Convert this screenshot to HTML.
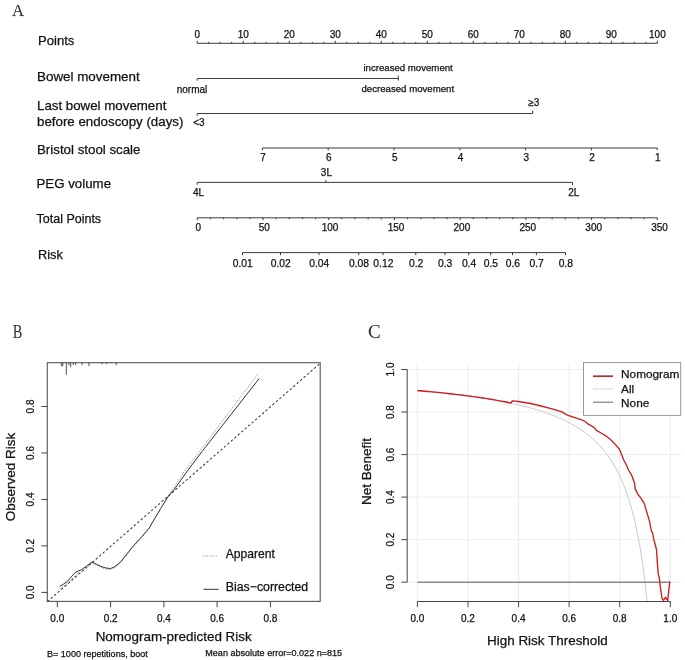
<!DOCTYPE html>
<html><head><meta charset="utf-8"><style>
html,body{margin:0;padding:0;background:#fff;}
body{width:685px;height:660px;overflow:hidden;}
svg{display:block;}
text{-webkit-font-smoothing:antialiased;}
</style></head><body>
<svg width="685" height="660" viewBox="0 0 685 660" style="will-change:transform">
<rect width="685" height="660" fill="#fff"/>
<text x="12.00" y="15.80" font-size="16.8" text-anchor="start" fill="#333" font-family='"Liberation Serif", serif' stroke="#333" stroke-width="0.25" stroke-opacity="0.3">A</text>
<text x="38.00" y="45.00" font-size="13.1" text-anchor="start" fill="#111" font-family='"Liberation Sans", sans-serif' stroke="#111" stroke-width="0.25" >Points</text>
<text x="37.00" y="80.50" font-size="13.4" text-anchor="start" fill="#111" font-family='"Liberation Sans", sans-serif' stroke="#111" stroke-width="0.25" >Bowel movement</text>
<text x="37.00" y="110.20" font-size="13.3" text-anchor="start" fill="#111" font-family='"Liberation Sans", sans-serif' stroke="#111" stroke-width="0.25" >Last bowel movement</text>
<text x="37.00" y="126.20" font-size="13.3" text-anchor="start" fill="#111" font-family='"Liberation Sans", sans-serif' stroke="#111" stroke-width="0.25" >before endoscopy (days)</text>
<text x="37.00" y="153.70" font-size="13.3" text-anchor="start" fill="#111" font-family='"Liberation Sans", sans-serif' stroke="#111" stroke-width="0.25" >Bristol stool scale</text>
<text x="36.40" y="188.20" font-size="13.3" text-anchor="start" fill="#111" font-family='"Liberation Sans", sans-serif' stroke="#111" stroke-width="0.25" >PEG volume</text>
<text x="36.50" y="223.40" font-size="12.5" text-anchor="start" fill="#111" font-family='"Liberation Sans", sans-serif' stroke="#111" stroke-width="0.25" >Total Points</text>
<text x="38.00" y="258.80" font-size="12.8" text-anchor="start" fill="#111" font-family='"Liberation Sans", sans-serif' stroke="#111" stroke-width="0.25" >Risk</text>
<line x1="197.20" y1="43.30" x2="657.40" y2="43.30" stroke="#3a3a3a" stroke-width="1" />
<line x1="197.20" y1="43.30" x2="197.20" y2="40.80" stroke="#3a3a3a" stroke-width="1" />
<text x="197.20" y="37.50" font-size="10" text-anchor="middle" fill="#111" font-family='"Liberation Sans", sans-serif' stroke="#111" stroke-width="0.25" >0</text>
<line x1="208.70" y1="43.30" x2="208.70" y2="41.80" stroke="#3a3a3a" stroke-width="1" />
<line x1="220.21" y1="43.30" x2="220.21" y2="41.80" stroke="#3a3a3a" stroke-width="1" />
<line x1="231.71" y1="43.30" x2="231.71" y2="41.80" stroke="#3a3a3a" stroke-width="1" />
<line x1="243.22" y1="43.30" x2="243.22" y2="40.80" stroke="#3a3a3a" stroke-width="1" />
<text x="243.22" y="37.50" font-size="10" text-anchor="middle" fill="#111" font-family='"Liberation Sans", sans-serif' stroke="#111" stroke-width="0.25" >10</text>
<line x1="254.72" y1="43.30" x2="254.72" y2="41.80" stroke="#3a3a3a" stroke-width="1" />
<line x1="266.23" y1="43.30" x2="266.23" y2="41.80" stroke="#3a3a3a" stroke-width="1" />
<line x1="277.74" y1="43.30" x2="277.74" y2="41.80" stroke="#3a3a3a" stroke-width="1" />
<line x1="289.24" y1="43.30" x2="289.24" y2="40.80" stroke="#3a3a3a" stroke-width="1" />
<text x="289.24" y="37.50" font-size="10" text-anchor="middle" fill="#111" font-family='"Liberation Sans", sans-serif' stroke="#111" stroke-width="0.25" >20</text>
<line x1="300.75" y1="43.30" x2="300.75" y2="41.80" stroke="#3a3a3a" stroke-width="1" />
<line x1="312.25" y1="43.30" x2="312.25" y2="41.80" stroke="#3a3a3a" stroke-width="1" />
<line x1="323.75" y1="43.30" x2="323.75" y2="41.80" stroke="#3a3a3a" stroke-width="1" />
<line x1="335.26" y1="43.30" x2="335.26" y2="40.80" stroke="#3a3a3a" stroke-width="1" />
<text x="335.26" y="37.50" font-size="10" text-anchor="middle" fill="#111" font-family='"Liberation Sans", sans-serif' stroke="#111" stroke-width="0.25" >30</text>
<line x1="346.76" y1="43.30" x2="346.76" y2="41.80" stroke="#3a3a3a" stroke-width="1" />
<line x1="358.27" y1="43.30" x2="358.27" y2="41.80" stroke="#3a3a3a" stroke-width="1" />
<line x1="369.77" y1="43.30" x2="369.77" y2="41.80" stroke="#3a3a3a" stroke-width="1" />
<line x1="381.28" y1="43.30" x2="381.28" y2="40.80" stroke="#3a3a3a" stroke-width="1" />
<text x="381.28" y="37.50" font-size="10" text-anchor="middle" fill="#111" font-family='"Liberation Sans", sans-serif' stroke="#111" stroke-width="0.25" >40</text>
<line x1="392.78" y1="43.30" x2="392.78" y2="41.80" stroke="#3a3a3a" stroke-width="1" />
<line x1="404.29" y1="43.30" x2="404.29" y2="41.80" stroke="#3a3a3a" stroke-width="1" />
<line x1="415.79" y1="43.30" x2="415.79" y2="41.80" stroke="#3a3a3a" stroke-width="1" />
<line x1="427.30" y1="43.30" x2="427.30" y2="40.80" stroke="#3a3a3a" stroke-width="1" />
<text x="427.30" y="37.50" font-size="10" text-anchor="middle" fill="#111" font-family='"Liberation Sans", sans-serif' stroke="#111" stroke-width="0.25" >50</text>
<line x1="438.80" y1="43.30" x2="438.80" y2="41.80" stroke="#3a3a3a" stroke-width="1" />
<line x1="450.31" y1="43.30" x2="450.31" y2="41.80" stroke="#3a3a3a" stroke-width="1" />
<line x1="461.81" y1="43.30" x2="461.81" y2="41.80" stroke="#3a3a3a" stroke-width="1" />
<line x1="473.32" y1="43.30" x2="473.32" y2="40.80" stroke="#3a3a3a" stroke-width="1" />
<text x="473.32" y="37.50" font-size="10" text-anchor="middle" fill="#111" font-family='"Liberation Sans", sans-serif' stroke="#111" stroke-width="0.25" >60</text>
<line x1="484.82" y1="43.30" x2="484.82" y2="41.80" stroke="#3a3a3a" stroke-width="1" />
<line x1="496.33" y1="43.30" x2="496.33" y2="41.80" stroke="#3a3a3a" stroke-width="1" />
<line x1="507.83" y1="43.30" x2="507.83" y2="41.80" stroke="#3a3a3a" stroke-width="1" />
<line x1="519.34" y1="43.30" x2="519.34" y2="40.80" stroke="#3a3a3a" stroke-width="1" />
<text x="519.34" y="37.50" font-size="10" text-anchor="middle" fill="#111" font-family='"Liberation Sans", sans-serif' stroke="#111" stroke-width="0.25" >70</text>
<line x1="530.85" y1="43.30" x2="530.85" y2="41.80" stroke="#3a3a3a" stroke-width="1" />
<line x1="542.35" y1="43.30" x2="542.35" y2="41.80" stroke="#3a3a3a" stroke-width="1" />
<line x1="553.86" y1="43.30" x2="553.86" y2="41.80" stroke="#3a3a3a" stroke-width="1" />
<line x1="565.36" y1="43.30" x2="565.36" y2="40.80" stroke="#3a3a3a" stroke-width="1" />
<text x="565.36" y="37.50" font-size="10" text-anchor="middle" fill="#111" font-family='"Liberation Sans", sans-serif' stroke="#111" stroke-width="0.25" >80</text>
<line x1="576.87" y1="43.30" x2="576.87" y2="41.80" stroke="#3a3a3a" stroke-width="1" />
<line x1="588.37" y1="43.30" x2="588.37" y2="41.80" stroke="#3a3a3a" stroke-width="1" />
<line x1="599.88" y1="43.30" x2="599.88" y2="41.80" stroke="#3a3a3a" stroke-width="1" />
<line x1="611.38" y1="43.30" x2="611.38" y2="40.80" stroke="#3a3a3a" stroke-width="1" />
<text x="611.38" y="37.50" font-size="10" text-anchor="middle" fill="#111" font-family='"Liberation Sans", sans-serif' stroke="#111" stroke-width="0.25" >90</text>
<line x1="622.88" y1="43.30" x2="622.88" y2="41.80" stroke="#3a3a3a" stroke-width="1" />
<line x1="634.39" y1="43.30" x2="634.39" y2="41.80" stroke="#3a3a3a" stroke-width="1" />
<line x1="645.89" y1="43.30" x2="645.89" y2="41.80" stroke="#3a3a3a" stroke-width="1" />
<line x1="657.40" y1="43.30" x2="657.40" y2="40.80" stroke="#3a3a3a" stroke-width="1" />
<text x="657.40" y="37.50" font-size="10" text-anchor="middle" fill="#111" font-family='"Liberation Sans", sans-serif' stroke="#111" stroke-width="0.25" >100</text>
<line x1="197.20" y1="78.50" x2="398.30" y2="78.50" stroke="#3a3a3a" stroke-width="1" />
<line x1="197.20" y1="78.50" x2="197.20" y2="80.70" stroke="#3a3a3a" stroke-width="1" />
<line x1="398.30" y1="75.50" x2="398.30" y2="80.70" stroke="#3a3a3a" stroke-width="1" />
<text x="192.00" y="93.30" font-size="10" text-anchor="middle" fill="#111" font-family='"Liberation Sans", sans-serif' stroke="#111" stroke-width="0.25" >normal</text>
<text x="408.10" y="71.20" font-size="9.65" text-anchor="middle" fill="#111" font-family='"Liberation Sans", sans-serif' stroke="#111" stroke-width="0.25" >increased movement</text>
<text x="407.80" y="91.80" font-size="9.65" text-anchor="middle" fill="#111" font-family='"Liberation Sans", sans-serif' stroke="#111" stroke-width="0.25" >decreased movement</text>
<line x1="197.20" y1="113.50" x2="532.70" y2="113.50" stroke="#3a3a3a" stroke-width="1" />
<line x1="197.20" y1="113.50" x2="197.20" y2="115.70" stroke="#3a3a3a" stroke-width="1" />
<line x1="532.70" y1="113.50" x2="532.70" y2="110.50" stroke="#3a3a3a" stroke-width="1" />
<text x="198.90" y="126.40" font-size="10" text-anchor="middle" fill="#111" font-family='"Liberation Sans", sans-serif' stroke="#111" stroke-width="0.25" >&lt;3</text>
<text x="533.90" y="105.50" font-size="10" text-anchor="middle" fill="#111" font-family='"Liberation Sans", sans-serif' stroke="#111" stroke-width="0.25" >&#8805;3</text>
<line x1="262.40" y1="148.00" x2="657.20" y2="148.00" stroke="#3a3a3a" stroke-width="1" />
<line x1="657.20" y1="148.00" x2="657.20" y2="150.30" stroke="#3a3a3a" stroke-width="1" />
<text x="657.90" y="161.00" font-size="10" text-anchor="middle" fill="#111" font-family='"Liberation Sans", sans-serif' stroke="#111" stroke-width="0.25" >1</text>
<line x1="591.40" y1="148.00" x2="591.40" y2="150.30" stroke="#3a3a3a" stroke-width="1" />
<text x="592.10" y="161.00" font-size="10" text-anchor="middle" fill="#111" font-family='"Liberation Sans", sans-serif' stroke="#111" stroke-width="0.25" >2</text>
<line x1="525.60" y1="148.00" x2="525.60" y2="150.30" stroke="#3a3a3a" stroke-width="1" />
<text x="526.30" y="161.00" font-size="10" text-anchor="middle" fill="#111" font-family='"Liberation Sans", sans-serif' stroke="#111" stroke-width="0.25" >3</text>
<line x1="459.80" y1="148.00" x2="459.80" y2="150.30" stroke="#3a3a3a" stroke-width="1" />
<text x="460.50" y="161.00" font-size="10" text-anchor="middle" fill="#111" font-family='"Liberation Sans", sans-serif' stroke="#111" stroke-width="0.25" >4</text>
<line x1="394.00" y1="148.00" x2="394.00" y2="150.30" stroke="#3a3a3a" stroke-width="1" />
<text x="394.70" y="161.00" font-size="10" text-anchor="middle" fill="#111" font-family='"Liberation Sans", sans-serif' stroke="#111" stroke-width="0.25" >5</text>
<line x1="328.20" y1="148.00" x2="328.20" y2="150.30" stroke="#3a3a3a" stroke-width="1" />
<text x="328.90" y="161.00" font-size="10" text-anchor="middle" fill="#111" font-family='"Liberation Sans", sans-serif' stroke="#111" stroke-width="0.25" >6</text>
<line x1="262.40" y1="148.00" x2="262.40" y2="150.30" stroke="#3a3a3a" stroke-width="1" />
<text x="263.10" y="161.00" font-size="10" text-anchor="middle" fill="#111" font-family='"Liberation Sans", sans-serif' stroke="#111" stroke-width="0.25" >7</text>
<line x1="197.20" y1="182.40" x2="572.50" y2="182.40" stroke="#3a3a3a" stroke-width="1" />
<line x1="197.20" y1="182.40" x2="197.20" y2="184.70" stroke="#3a3a3a" stroke-width="1" />
<line x1="325.90" y1="182.40" x2="325.90" y2="180.10" stroke="#3a3a3a" stroke-width="1" />
<line x1="572.50" y1="182.40" x2="572.50" y2="185.00" stroke="#3a3a3a" stroke-width="1" />
<text x="198.50" y="195.80" font-size="10" text-anchor="middle" fill="#111" font-family='"Liberation Sans", sans-serif' stroke="#111" stroke-width="0.25" >4L</text>
<text x="326.40" y="176.30" font-size="10" text-anchor="middle" fill="#111" font-family='"Liberation Sans", sans-serif' stroke="#111" stroke-width="0.25" >3L</text>
<text x="573.80" y="195.80" font-size="10" text-anchor="middle" fill="#111" font-family='"Liberation Sans", sans-serif' stroke="#111" stroke-width="0.25" >2L</text>
<line x1="197.30" y1="217.80" x2="657.30" y2="217.80" stroke="#3a3a3a" stroke-width="1" />
<line x1="197.30" y1="217.80" x2="197.30" y2="220.10" stroke="#3a3a3a" stroke-width="1" />
<text x="198.30" y="230.50" font-size="10" text-anchor="middle" fill="#111" font-family='"Liberation Sans", sans-serif' stroke="#111" stroke-width="0.25" >0</text>
<line x1="210.44" y1="217.80" x2="210.44" y2="219.30" stroke="#3a3a3a" stroke-width="1" />
<line x1="223.59" y1="217.80" x2="223.59" y2="219.30" stroke="#3a3a3a" stroke-width="1" />
<line x1="236.73" y1="217.80" x2="236.73" y2="219.30" stroke="#3a3a3a" stroke-width="1" />
<line x1="249.87" y1="217.80" x2="249.87" y2="219.30" stroke="#3a3a3a" stroke-width="1" />
<line x1="263.01" y1="217.80" x2="263.01" y2="220.10" stroke="#3a3a3a" stroke-width="1" />
<text x="264.20" y="230.50" font-size="10" text-anchor="middle" fill="#111" font-family='"Liberation Sans", sans-serif' stroke="#111" stroke-width="0.25" >50</text>
<line x1="276.16" y1="217.80" x2="276.16" y2="219.30" stroke="#3a3a3a" stroke-width="1" />
<line x1="289.30" y1="217.80" x2="289.30" y2="219.30" stroke="#3a3a3a" stroke-width="1" />
<line x1="302.44" y1="217.80" x2="302.44" y2="219.30" stroke="#3a3a3a" stroke-width="1" />
<line x1="315.59" y1="217.80" x2="315.59" y2="219.30" stroke="#3a3a3a" stroke-width="1" />
<line x1="328.73" y1="217.80" x2="328.73" y2="220.10" stroke="#3a3a3a" stroke-width="1" />
<text x="330.10" y="230.50" font-size="10" text-anchor="middle" fill="#111" font-family='"Liberation Sans", sans-serif' stroke="#111" stroke-width="0.25" >100</text>
<line x1="341.87" y1="217.80" x2="341.87" y2="219.30" stroke="#3a3a3a" stroke-width="1" />
<line x1="355.01" y1="217.80" x2="355.01" y2="219.30" stroke="#3a3a3a" stroke-width="1" />
<line x1="368.16" y1="217.80" x2="368.16" y2="219.30" stroke="#3a3a3a" stroke-width="1" />
<line x1="381.30" y1="217.80" x2="381.30" y2="219.30" stroke="#3a3a3a" stroke-width="1" />
<line x1="394.44" y1="217.80" x2="394.44" y2="220.10" stroke="#3a3a3a" stroke-width="1" />
<text x="396.00" y="230.50" font-size="10" text-anchor="middle" fill="#111" font-family='"Liberation Sans", sans-serif' stroke="#111" stroke-width="0.25" >150</text>
<line x1="407.59" y1="217.80" x2="407.59" y2="219.30" stroke="#3a3a3a" stroke-width="1" />
<line x1="420.73" y1="217.80" x2="420.73" y2="219.30" stroke="#3a3a3a" stroke-width="1" />
<line x1="433.87" y1="217.80" x2="433.87" y2="219.30" stroke="#3a3a3a" stroke-width="1" />
<line x1="447.01" y1="217.80" x2="447.01" y2="219.30" stroke="#3a3a3a" stroke-width="1" />
<line x1="460.16" y1="217.80" x2="460.16" y2="220.10" stroke="#3a3a3a" stroke-width="1" />
<text x="461.90" y="230.50" font-size="10" text-anchor="middle" fill="#111" font-family='"Liberation Sans", sans-serif' stroke="#111" stroke-width="0.25" >200</text>
<line x1="473.30" y1="217.80" x2="473.30" y2="219.30" stroke="#3a3a3a" stroke-width="1" />
<line x1="486.44" y1="217.80" x2="486.44" y2="219.30" stroke="#3a3a3a" stroke-width="1" />
<line x1="499.59" y1="217.80" x2="499.59" y2="219.30" stroke="#3a3a3a" stroke-width="1" />
<line x1="512.73" y1="217.80" x2="512.73" y2="219.30" stroke="#3a3a3a" stroke-width="1" />
<line x1="525.87" y1="217.80" x2="525.87" y2="220.10" stroke="#3a3a3a" stroke-width="1" />
<text x="527.80" y="230.50" font-size="10" text-anchor="middle" fill="#111" font-family='"Liberation Sans", sans-serif' stroke="#111" stroke-width="0.25" >250</text>
<line x1="539.01" y1="217.80" x2="539.01" y2="219.30" stroke="#3a3a3a" stroke-width="1" />
<line x1="552.16" y1="217.80" x2="552.16" y2="219.30" stroke="#3a3a3a" stroke-width="1" />
<line x1="565.30" y1="217.80" x2="565.30" y2="219.30" stroke="#3a3a3a" stroke-width="1" />
<line x1="578.44" y1="217.80" x2="578.44" y2="219.30" stroke="#3a3a3a" stroke-width="1" />
<line x1="591.59" y1="217.80" x2="591.59" y2="220.10" stroke="#3a3a3a" stroke-width="1" />
<text x="593.70" y="230.50" font-size="10" text-anchor="middle" fill="#111" font-family='"Liberation Sans", sans-serif' stroke="#111" stroke-width="0.25" >300</text>
<line x1="604.73" y1="217.80" x2="604.73" y2="219.30" stroke="#3a3a3a" stroke-width="1" />
<line x1="617.87" y1="217.80" x2="617.87" y2="219.30" stroke="#3a3a3a" stroke-width="1" />
<line x1="631.01" y1="217.80" x2="631.01" y2="219.30" stroke="#3a3a3a" stroke-width="1" />
<line x1="644.16" y1="217.80" x2="644.16" y2="219.30" stroke="#3a3a3a" stroke-width="1" />
<line x1="657.30" y1="217.80" x2="657.30" y2="220.10" stroke="#3a3a3a" stroke-width="1" />
<text x="659.60" y="230.50" font-size="10" text-anchor="middle" fill="#111" font-family='"Liberation Sans", sans-serif' stroke="#111" stroke-width="0.25" >350</text>
<line x1="242.50" y1="252.60" x2="565.50" y2="252.60" stroke="#3a3a3a" stroke-width="1" />
<line x1="242.50" y1="252.60" x2="242.50" y2="255.20" stroke="#3a3a3a" stroke-width="1" />
<text x="242.80" y="267.00" font-size="10.3" text-anchor="middle" fill="#111" font-family='"Liberation Sans", sans-serif' stroke="#111" stroke-width="0.25" >0.01</text>
<line x1="280.48" y1="252.60" x2="280.48" y2="255.20" stroke="#3a3a3a" stroke-width="1" />
<text x="280.78" y="267.00" font-size="10.3" text-anchor="middle" fill="#111" font-family='"Liberation Sans", sans-serif' stroke="#111" stroke-width="0.25" >0.02</text>
<line x1="319.02" y1="252.60" x2="319.02" y2="255.20" stroke="#3a3a3a" stroke-width="1" />
<text x="319.32" y="267.00" font-size="10.3" text-anchor="middle" fill="#111" font-family='"Liberation Sans", sans-serif' stroke="#111" stroke-width="0.25" >0.04</text>
<line x1="358.75" y1="252.60" x2="358.75" y2="255.20" stroke="#3a3a3a" stroke-width="1" />
<text x="359.05" y="267.00" font-size="10.3" text-anchor="middle" fill="#111" font-family='"Liberation Sans", sans-serif' stroke="#111" stroke-width="0.25" >0.08</text>
<line x1="383.05" y1="252.60" x2="383.05" y2="255.20" stroke="#3a3a3a" stroke-width="1" />
<text x="383.35" y="267.00" font-size="10.3" text-anchor="middle" fill="#111" font-family='"Liberation Sans", sans-serif' stroke="#111" stroke-width="0.25" >0.12</text>
<line x1="415.78" y1="252.60" x2="415.78" y2="255.20" stroke="#3a3a3a" stroke-width="1" />
<text x="416.08" y="267.00" font-size="10.3" text-anchor="middle" fill="#111" font-family='"Liberation Sans", sans-serif' stroke="#111" stroke-width="0.25" >0.2</text>
<line x1="444.88" y1="252.60" x2="444.88" y2="255.20" stroke="#3a3a3a" stroke-width="1" />
<text x="445.18" y="267.00" font-size="10.3" text-anchor="middle" fill="#111" font-family='"Liberation Sans", sans-serif' stroke="#111" stroke-width="0.25" >0.3</text>
<line x1="468.74" y1="252.60" x2="468.74" y2="255.20" stroke="#3a3a3a" stroke-width="1" />
<text x="469.04" y="267.00" font-size="10.3" text-anchor="middle" fill="#111" font-family='"Liberation Sans", sans-serif' stroke="#111" stroke-width="0.25" >0.4</text>
<line x1="490.64" y1="252.60" x2="490.64" y2="255.20" stroke="#3a3a3a" stroke-width="1" />
<text x="490.94" y="267.00" font-size="10.3" text-anchor="middle" fill="#111" font-family='"Liberation Sans", sans-serif' stroke="#111" stroke-width="0.25" >0.5</text>
<line x1="512.53" y1="252.60" x2="512.53" y2="255.20" stroke="#3a3a3a" stroke-width="1" />
<text x="512.83" y="267.00" font-size="10.3" text-anchor="middle" fill="#111" font-family='"Liberation Sans", sans-serif' stroke="#111" stroke-width="0.25" >0.6</text>
<line x1="536.39" y1="252.60" x2="536.39" y2="255.20" stroke="#3a3a3a" stroke-width="1" />
<text x="536.69" y="267.00" font-size="10.3" text-anchor="middle" fill="#111" font-family='"Liberation Sans", sans-serif' stroke="#111" stroke-width="0.25" >0.7</text>
<line x1="565.50" y1="252.60" x2="565.50" y2="255.20" stroke="#3a3a3a" stroke-width="1" />
<text x="565.80" y="267.00" font-size="10.3" text-anchor="middle" fill="#111" font-family='"Liberation Sans", sans-serif' stroke="#111" stroke-width="0.25" >0.8</text>
<text transform="translate(12.7,337.7) scale(0.8,1)" font-size="18" fill="#333" font-family='"Liberation Serif", serif' stroke="#333" stroke-width="0.2" stroke-opacity="0.3">B</text>
<rect x="47.3" y="362.7" width="272.90" height="238.70" fill="none" stroke="#555" stroke-width="1.1"/>
<line x1="57.30" y1="601.40" x2="57.30" y2="607.30" stroke="#444" stroke-width="1" />
<text x="57.30" y="622.30" font-size="10" text-anchor="middle" fill="#111" font-family='"Liberation Sans", sans-serif' stroke="#111" stroke-width="0.25" >0.0</text>
<line x1="41.40" y1="592.40" x2="47.30" y2="592.40" stroke="#444" stroke-width="1" />
<text transform="translate(33.80,592.40) rotate(-90)" font-size="10" text-anchor="middle" fill="#111" font-family='"Liberation Sans", sans-serif' stroke="#111" stroke-width="0.25">0.0</text>
<line x1="110.58" y1="601.40" x2="110.58" y2="607.30" stroke="#444" stroke-width="1" />
<text x="110.58" y="622.30" font-size="10" text-anchor="middle" fill="#111" font-family='"Liberation Sans", sans-serif' stroke="#111" stroke-width="0.25" >0.2</text>
<line x1="41.40" y1="545.92" x2="47.30" y2="545.92" stroke="#444" stroke-width="1" />
<text transform="translate(33.80,545.92) rotate(-90)" font-size="10" text-anchor="middle" fill="#111" font-family='"Liberation Sans", sans-serif' stroke="#111" stroke-width="0.25">0.2</text>
<line x1="163.86" y1="601.40" x2="163.86" y2="607.30" stroke="#444" stroke-width="1" />
<text x="163.86" y="622.30" font-size="10" text-anchor="middle" fill="#111" font-family='"Liberation Sans", sans-serif' stroke="#111" stroke-width="0.25" >0.4</text>
<line x1="41.40" y1="499.44" x2="47.30" y2="499.44" stroke="#444" stroke-width="1" />
<text transform="translate(33.80,499.44) rotate(-90)" font-size="10" text-anchor="middle" fill="#111" font-family='"Liberation Sans", sans-serif' stroke="#111" stroke-width="0.25">0.4</text>
<line x1="217.14" y1="601.40" x2="217.14" y2="607.30" stroke="#444" stroke-width="1" />
<text x="217.14" y="622.30" font-size="10" text-anchor="middle" fill="#111" font-family='"Liberation Sans", sans-serif' stroke="#111" stroke-width="0.25" >0.6</text>
<line x1="41.40" y1="452.96" x2="47.30" y2="452.96" stroke="#444" stroke-width="1" />
<text transform="translate(33.80,452.96) rotate(-90)" font-size="10" text-anchor="middle" fill="#111" font-family='"Liberation Sans", sans-serif' stroke="#111" stroke-width="0.25">0.6</text>
<line x1="270.42" y1="601.40" x2="270.42" y2="607.30" stroke="#444" stroke-width="1" />
<text x="270.42" y="622.30" font-size="10" text-anchor="middle" fill="#111" font-family='"Liberation Sans", sans-serif' stroke="#111" stroke-width="0.25" >0.8</text>
<line x1="41.40" y1="406.48" x2="47.30" y2="406.48" stroke="#444" stroke-width="1" />
<text transform="translate(33.80,406.48) rotate(-90)" font-size="10" text-anchor="middle" fill="#111" font-family='"Liberation Sans", sans-serif' stroke="#111" stroke-width="0.25">0.8</text>
<text transform="translate(14.60,476.90) rotate(-90)" font-size="13.5" text-anchor="middle" fill="#111" font-family='"Liberation Sans", sans-serif' stroke="#111" stroke-width="0.25">Observed Risk</text>
<text x="173.70" y="641.00" font-size="13.45" text-anchor="middle" fill="#111" font-family='"Liberation Sans", sans-serif' stroke="#111" stroke-width="0.25" >Nomogram-predicted Risk</text>
<text x="47.00" y="656.90" font-size="9.05" text-anchor="start" fill="#111" font-family='"Liberation Sans", sans-serif' stroke="#111" stroke-width="0.25" >B= 1000 repetitions, boot</text>
<text x="205.30" y="656.10" font-size="9.05" text-anchor="start" fill="#111" font-family='"Liberation Sans", sans-serif' stroke="#111" stroke-width="0.25" >Mean absolute error=0.022 n=815</text>
<line x1="47.30" y1="601.70" x2="320.20" y2="363.30" stroke="#3a3a3a" stroke-width="1.05" stroke-dasharray="2.4 2.2"/>
<line x1="61.40" y1="362.70" x2="61.40" y2="366.20" stroke="#3a3a3a" stroke-width="0.9" />
<line x1="62.80" y1="362.70" x2="62.80" y2="366.20" stroke="#3a3a3a" stroke-width="0.9" />
<line x1="66.30" y1="362.70" x2="66.30" y2="374.70" stroke="#3a3a3a" stroke-width="0.9" />
<line x1="68.90" y1="362.70" x2="68.90" y2="365.20" stroke="#3a3a3a" stroke-width="0.9" />
<line x1="70.70" y1="362.70" x2="70.70" y2="367.20" stroke="#3a3a3a" stroke-width="0.9" />
<line x1="73.30" y1="362.70" x2="73.30" y2="365.20" stroke="#3a3a3a" stroke-width="0.9" />
<line x1="75.60" y1="362.70" x2="75.60" y2="365.20" stroke="#3a3a3a" stroke-width="0.9" />
<line x1="82.00" y1="362.70" x2="82.00" y2="365.20" stroke="#3a3a3a" stroke-width="0.9" />
<line x1="89.00" y1="362.70" x2="89.00" y2="366.20" stroke="#3a3a3a" stroke-width="0.9" />
<line x1="102.00" y1="362.70" x2="102.00" y2="364.20" stroke="#3a3a3a" stroke-width="0.9" />
<line x1="106.60" y1="362.70" x2="106.60" y2="364.20" stroke="#3a3a3a" stroke-width="0.9" />
<line x1="116.20" y1="362.70" x2="116.20" y2="365.20" stroke="#3a3a3a" stroke-width="0.9" />
<path d="M59.70,586.40 L63.00,584.50 L67.50,581.30 L72.00,576.00 L75.70,572.10 L80.80,570.00 L86.00,566.50 L92.00,561.90 L96.00,564.00 L100.20,566.00 L105.00,567.80 L110.40,568.60 L115.00,566.50 L120.60,561.90 L126.00,555.00 L133.60,545.60 L141.00,537.50 L149.30,527.90 L152.70,521.80 L160.90,508.20 L167.70,497.30 L174.50,489.10 L188.10,470.00 L202.80,450.50 L259.20,378.50" fill="none" stroke="#333" stroke-width="1" stroke-linejoin="round" />
<path d="M60.50,588.40 L64.00,586.00 L68.50,582.50 L73.00,578.00 L77.00,574.00 L82.00,571.50 L87.00,567.50 L92.00,563.00 L96.00,565.00 L100.20,567.00 L105.00,568.80 L110.40,569.40 L115.00,567.50 L120.60,562.90 L126.00,556.00 L133.60,546.60 L141.00,538.30 L149.30,528.40 L152.70,522.50 L160.90,508.20 L167.70,496.80 L171.80,490.40 L185.40,470.00 L200.60,450.00 L257.90,374.00" fill="none" stroke="#666" stroke-width="0.8" stroke-linejoin="round" stroke-dasharray="1 1.2"/>
<line x1="202.70" y1="556.00" x2="218.20" y2="556.00" stroke="#777" stroke-width="0.8" stroke-dasharray="1 1.2"/>
<text x="225.80" y="558.00" font-size="12.1" text-anchor="start" fill="#111" font-family='"Liberation Sans", sans-serif' stroke="#111" stroke-width="0.25" >Apparent</text>
<line x1="203.50" y1="589.30" x2="218.60" y2="589.30" stroke="#333" stroke-width="1" />
<text x="225.80" y="591.30" font-size="12.3" text-anchor="start" fill="#111" font-family='"Liberation Sans", sans-serif' stroke="#111" stroke-width="0.25" >Bias&#8722;corrected</text>
<text x="367.90" y="338.00" font-size="19" text-anchor="start" fill="#333" font-family='"Liberation Serif", serif' stroke="#333" stroke-width="0.25" stroke-opacity="0.3">C</text>
<line x1="417.40" y1="362.60" x2="417.40" y2="601.60" stroke="#ececec" stroke-width="1" />
<line x1="407.20" y1="582.20" x2="680.80" y2="582.20" stroke="#ececec" stroke-width="1" />
<line x1="467.98" y1="362.60" x2="467.98" y2="601.60" stroke="#ececec" stroke-width="1" />
<line x1="407.20" y1="539.66" x2="680.80" y2="539.66" stroke="#ececec" stroke-width="1" />
<line x1="518.56" y1="362.60" x2="518.56" y2="601.60" stroke="#ececec" stroke-width="1" />
<line x1="407.20" y1="497.12" x2="680.80" y2="497.12" stroke="#ececec" stroke-width="1" />
<line x1="569.14" y1="362.60" x2="569.14" y2="601.60" stroke="#ececec" stroke-width="1" />
<line x1="407.20" y1="454.58" x2="680.80" y2="454.58" stroke="#ececec" stroke-width="1" />
<line x1="619.72" y1="362.60" x2="619.72" y2="601.60" stroke="#ececec" stroke-width="1" />
<line x1="407.20" y1="412.04" x2="680.80" y2="412.04" stroke="#ececec" stroke-width="1" />
<line x1="670.30" y1="362.60" x2="670.30" y2="601.60" stroke="#ececec" stroke-width="1" />
<line x1="407.20" y1="369.50" x2="680.80" y2="369.50" stroke="#ececec" stroke-width="1" />
<path d="M417.40,390.77 L418.66,390.88 L419.93,390.98 L421.19,391.09 L422.46,391.20 L423.72,391.32 L424.99,391.43 L426.25,391.54 L427.52,391.66 L428.78,391.77 L430.04,391.89 L431.31,392.01 L432.57,392.13 L433.84,392.25 L435.10,392.37 L436.37,392.49 L437.63,392.62 L438.90,392.75 L440.16,392.87 L441.43,393.00 L442.69,393.13 L443.95,393.27 L445.22,393.40 L446.48,393.53 L447.75,393.67 L449.01,393.81 L450.28,393.95 L451.54,394.09 L452.81,394.23 L454.07,394.38 L455.33,394.52 L456.60,394.67 L457.86,394.82 L459.13,394.97 L460.39,395.13 L461.66,395.28 L462.92,395.44 L464.19,395.60 L465.45,395.76 L466.72,395.92 L467.98,396.09 L469.24,396.25 L470.51,396.42 L471.77,396.60 L473.04,396.77 L474.30,396.95 L475.57,397.12 L476.83,397.30 L478.10,397.49 L479.36,397.67 L480.62,397.86 L481.89,398.05 L483.15,398.24 L484.42,398.44 L485.68,398.64 L486.95,398.84 L488.21,399.04 L489.48,399.25 L490.74,399.46 L492.01,399.67 L493.27,399.89 L494.53,400.10 L495.80,400.33 L497.06,400.55 L498.33,400.78 L499.59,401.01 L500.86,401.25 L502.12,401.48 L503.39,401.73 L504.65,401.97 L505.92,402.22 L507.18,402.48 L508.44,402.73 L509.71,403.00 L510.97,403.26 L512.24,403.53 L513.50,403.81 L514.77,404.09 L516.03,404.37 L517.30,404.66 L518.56,404.95 L519.82,405.25 L521.09,405.55 L522.35,405.86 L523.62,406.17 L524.88,406.49 L526.15,406.82 L527.41,407.15 L528.68,407.48 L529.94,407.82 L531.21,408.17 L532.47,408.53 L533.73,408.89 L535.00,409.26 L536.26,409.63 L537.53,410.01 L538.79,410.40 L540.06,410.80 L541.32,411.21 L542.59,411.62 L543.85,412.04 L545.11,412.47 L546.38,412.91 L547.64,413.36 L548.91,413.81 L550.17,414.28 L551.44,414.76 L552.70,415.24 L553.97,415.74 L555.23,416.25 L556.50,416.77 L557.76,417.30 L559.02,417.84 L560.29,418.40 L561.55,418.97 L562.82,419.55 L564.08,420.14 L565.35,420.75 L566.61,421.38 L567.88,422.02 L569.14,422.68 L570.40,423.35 L571.67,424.04 L572.93,424.75 L574.20,425.47 L575.46,426.22 L576.73,426.99 L577.99,427.77 L579.26,428.58 L580.52,429.42 L581.79,430.27 L583.05,431.15 L584.31,432.06 L585.58,432.99 L586.84,433.95 L588.11,434.95 L589.37,435.97 L590.64,437.02 L591.90,438.11 L593.17,439.24 L594.43,440.40 L595.69,441.60 L596.96,442.84 L598.22,444.13 L599.49,445.46 L600.75,446.85 L602.02,448.28 L603.28,449.76 L604.55,451.31 L605.81,452.91 L607.08,454.58 L608.34,456.32 L609.60,458.13 L610.87,460.01 L612.13,461.98 L613.40,464.03 L614.66,466.18 L615.93,468.43 L617.19,470.79 L618.46,473.26 L619.72,475.85 L620.98,478.58 L622.25,481.45 L623.51,484.47 L624.78,487.67 L626.04,491.04 L627.31,494.62 L628.57,498.41 L629.84,502.44 L631.10,506.73 L632.37,511.30 L633.63,516.19 L634.89,521.43 L636.16,527.06 L637.42,533.12 L638.69,539.66 L639.95,546.75 L641.22,554.46 L642.48,562.86 L643.75,572.07 L645.01,582.20 L646.27,593.39 L647.14,601.73" fill="none" stroke="#c8c8c8" stroke-width="1" stroke-linejoin="round" />
<line x1="417.40" y1="582.20" x2="670.30" y2="582.20" stroke="#555" stroke-width="1" />
<path d="M417.40,390.57 L419.93,390.78 L422.46,391.00 L424.99,391.23 L427.52,391.46 L430.04,391.69 L432.57,391.93 L435.10,392.17 L437.63,392.42 L440.16,392.67 L442.69,392.93 L445.22,393.20 L447.75,393.47 L450.28,393.75 L452.81,394.03 L455.33,394.32 L457.86,394.62 L460.39,394.93 L462.92,395.24 L465.45,395.56 L467.98,395.89 L470.51,396.22 L473.04,396.57 L475.57,396.92 L478.10,397.29 L480.62,397.66 L483.15,398.04 L485.68,398.44 L488.21,398.84 L490.74,399.26 L493.27,399.69 L495.80,400.13 L498.33,400.58 L500.86,401.05 L503.39,401.53 L505.92,402.02 L508.44,402.53 L510.97,403.06 L512.30,400.80 L518.40,401.50 L530.70,403.50 L541.00,406.00 L551.10,408.60 L561.30,411.70 L567.40,415.20 L574.00,417.30 L581.70,419.90 L585.00,421.50 L587.90,423.90 L594.00,427.40 L596.10,430.10 L601.00,433.00 L606.30,436.20 L610.50,439.50 L614.40,443.40 L619.60,449.50 L621.80,455.00 L623.60,459.70 L626.70,465.80 L628.50,470.00 L631.70,475.30 L634.40,482.70 L635.30,489.10 L638.00,494.40 L641.20,498.60 L644.40,503.90 L646.50,511.30 L649.70,521.90 L651.40,531.50 L652.50,532.50 L653.90,540.00 L656.50,549.50 L657.10,559.00 L658.20,573.90 L659.20,577.10 L660.30,586.60 L662.00,598.30 L663.50,600.40 L665.60,597.20 L666.60,599.30 L667.70,600.40 L669.80,581.30" fill="none" stroke="#cc1e1e" stroke-width="1.35" stroke-linejoin="round" />
<line x1="407.20" y1="582.20" x2="407.20" y2="369.50" stroke="#444" stroke-width="1" />
<line x1="401.40" y1="582.20" x2="407.20" y2="582.20" stroke="#444" stroke-width="1" />
<text transform="translate(394.20,582.20) rotate(-90)" font-size="10" text-anchor="middle" fill="#111" font-family='"Liberation Sans", sans-serif' stroke="#111" stroke-width="0.25">0.0</text>
<line x1="401.40" y1="539.66" x2="407.20" y2="539.66" stroke="#444" stroke-width="1" />
<text transform="translate(394.20,539.66) rotate(-90)" font-size="10" text-anchor="middle" fill="#111" font-family='"Liberation Sans", sans-serif' stroke="#111" stroke-width="0.25">0.2</text>
<line x1="401.40" y1="497.12" x2="407.20" y2="497.12" stroke="#444" stroke-width="1" />
<text transform="translate(394.20,497.12) rotate(-90)" font-size="10" text-anchor="middle" fill="#111" font-family='"Liberation Sans", sans-serif' stroke="#111" stroke-width="0.25">0.4</text>
<line x1="401.40" y1="454.58" x2="407.20" y2="454.58" stroke="#444" stroke-width="1" />
<text transform="translate(394.20,454.58) rotate(-90)" font-size="10" text-anchor="middle" fill="#111" font-family='"Liberation Sans", sans-serif' stroke="#111" stroke-width="0.25">0.6</text>
<line x1="401.40" y1="412.04" x2="407.20" y2="412.04" stroke="#444" stroke-width="1" />
<text transform="translate(394.20,412.04) rotate(-90)" font-size="10" text-anchor="middle" fill="#111" font-family='"Liberation Sans", sans-serif' stroke="#111" stroke-width="0.25">0.8</text>
<line x1="401.40" y1="369.50" x2="407.20" y2="369.50" stroke="#444" stroke-width="1" />
<text transform="translate(394.20,369.50) rotate(-90)" font-size="10" text-anchor="middle" fill="#111" font-family='"Liberation Sans", sans-serif' stroke="#111" stroke-width="0.25">1.0</text>
<line x1="417.40" y1="601.50" x2="670.30" y2="601.50" stroke="#444" stroke-width="1" />
<line x1="417.40" y1="601.50" x2="417.40" y2="607.20" stroke="#444" stroke-width="1" />
<text x="417.40" y="622.30" font-size="10" text-anchor="middle" fill="#111" font-family='"Liberation Sans", sans-serif' stroke="#111" stroke-width="0.25" >0.0</text>
<line x1="467.98" y1="601.50" x2="467.98" y2="607.20" stroke="#444" stroke-width="1" />
<text x="467.98" y="622.30" font-size="10" text-anchor="middle" fill="#111" font-family='"Liberation Sans", sans-serif' stroke="#111" stroke-width="0.25" >0.2</text>
<line x1="518.56" y1="601.50" x2="518.56" y2="607.20" stroke="#444" stroke-width="1" />
<text x="518.56" y="622.30" font-size="10" text-anchor="middle" fill="#111" font-family='"Liberation Sans", sans-serif' stroke="#111" stroke-width="0.25" >0.4</text>
<line x1="569.14" y1="601.50" x2="569.14" y2="607.20" stroke="#444" stroke-width="1" />
<text x="569.14" y="622.30" font-size="10" text-anchor="middle" fill="#111" font-family='"Liberation Sans", sans-serif' stroke="#111" stroke-width="0.25" >0.6</text>
<line x1="619.72" y1="601.50" x2="619.72" y2="607.20" stroke="#444" stroke-width="1" />
<text x="619.72" y="622.30" font-size="10" text-anchor="middle" fill="#111" font-family='"Liberation Sans", sans-serif' stroke="#111" stroke-width="0.25" >0.8</text>
<line x1="670.30" y1="601.50" x2="670.30" y2="607.20" stroke="#444" stroke-width="1" />
<text x="670.30" y="622.30" font-size="10" text-anchor="middle" fill="#111" font-family='"Liberation Sans", sans-serif' stroke="#111" stroke-width="0.25" >1.0</text>
<text transform="translate(370.90,471.50) rotate(-90)" font-size="13.5" text-anchor="middle" fill="#111" font-family='"Liberation Sans", sans-serif' stroke="#111" stroke-width="0.25">Net Benefit</text>
<text x="547.40" y="644.80" font-size="13.44" text-anchor="middle" fill="#111" font-family='"Liberation Sans", sans-serif' stroke="#111" stroke-width="0.25" >High Risk Threshold</text>
<rect x="583.5" y="362.6" width="97.2" height="52.8" fill="#fff" stroke="#999" stroke-width="1"/>
<line x1="593.00" y1="376.20" x2="613.00" y2="376.20" stroke="#b52f2f" stroke-width="1.7" />
<line x1="593.00" y1="388.90" x2="613.00" y2="388.90" stroke="#d6d6d6" stroke-width="1" />
<line x1="593.00" y1="402.20" x2="613.00" y2="402.20" stroke="#666" stroke-width="1" />
<text x="621.10" y="378.30" font-size="11.8" text-anchor="start" fill="#111" font-family='"Liberation Sans", sans-serif' stroke="#111" stroke-width="0.25" >Nomogram</text>
<text x="621.10" y="393.40" font-size="11.8" text-anchor="start" fill="#111" font-family='"Liberation Sans", sans-serif' stroke="#111" stroke-width="0.25" >All</text>
<text x="621.10" y="406.60" font-size="11.8" text-anchor="start" fill="#111" font-family='"Liberation Sans", sans-serif' stroke="#111" stroke-width="0.25" >None</text>
</svg>
</body></html>
